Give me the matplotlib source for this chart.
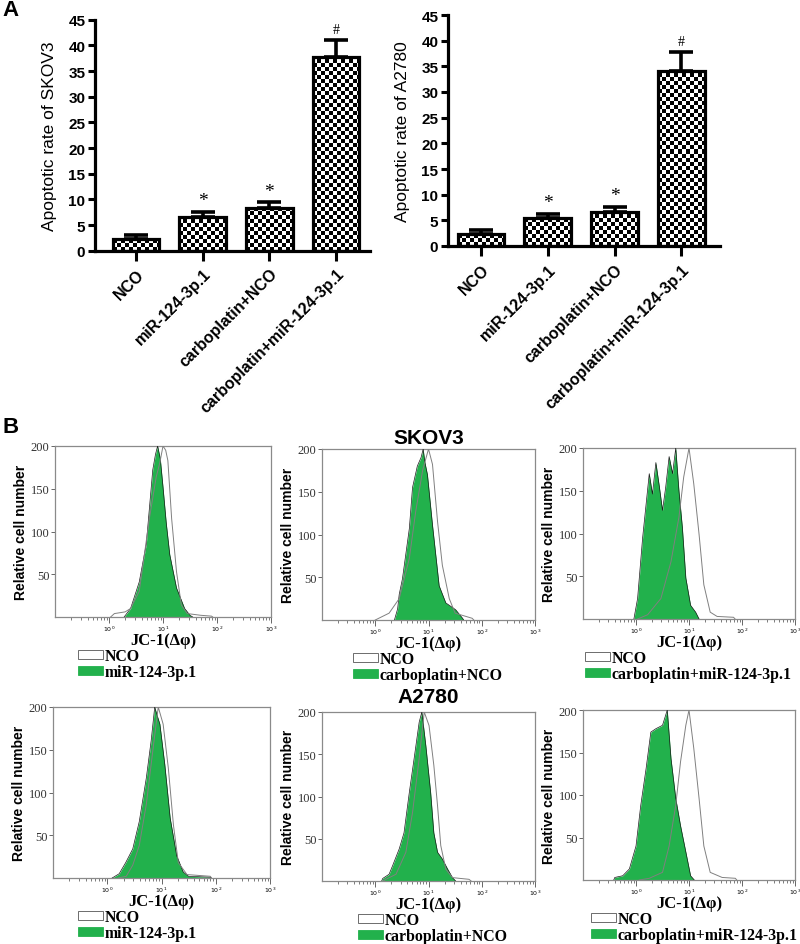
import numpy as np
import matplotlib.pyplot as plt
from matplotlib.patches import Patch
from matplotlib.ticker import FixedLocator, LogLocator, NullFormatter

# ---- data ----
groups = ['NCO', 'miR-124-3p.1', 'carboplatin+NCO', 'carboplatin+miR-124-3p.1']
skov3_rate = [2.3, 6.6, 8.3, 37.7]
skov3_err = [0.7, 1.0, 1.1, 3.4]
a2780_rate = [2.4, 5.4, 6.6, 34.1]
a2780_err = [0.8, 0.9, 1.0, 3.6]
marks = ['', '*', '*', '#']

# flow histograms: x in log10 units, y = relative cell number
# SKOV3
s1_g_lx = [0.28, 0.4, 0.56, 0.69, 0.81, 0.86, 0.9, 0.95, 1.0, 1.06, 1.125, 1.25, 1.4, 1.5, 1.55]
s1_g_y = [0, 10, 41, 85, 172, 190, 200, 185, 152, 110, 73, 34, 10, 2, 0]
s1_n_lx = [0.03, 0.1, 0.3, 0.4, 0.56, 0.75, 0.875, 0.94, 1.0, 1.05, 1.09, 1.16, 1.25, 1.34, 1.45, 1.7, 1.9, 1.92]
s1_n_y = [0, 4, 6, 10, 30, 116, 164, 180, 200, 195, 183, 115, 53, 14, 4, 2, 1, 0]

s2_g_lx = [0.36, 0.42, 0.45, 0.51, 0.64, 0.7, 0.79, 0.86, 0.9, 0.93, 0.98, 1.075, 1.2, 1.325, 1.51, 1.64, 1.66]
s2_g_y = [0, 13, 30, 48, 107, 155, 180, 190, 200, 185, 170, 111, 40, 20, 12, 2, 0]
s2_n_lx = [0.0, 0.26, 0.45, 0.64, 0.76, 0.89, 1.0, 1.075, 1.17, 1.26, 1.39, 1.5, 1.82, 1.85]
s2_n_y = [0, 8, 25, 72, 127, 175, 200, 182, 115, 64, 25, 8, 2, 0]

s3_g_lx = [-0.04, 0.03, 0.125, 0.19, 0.25, 0.31, 0.375, 0.44, 0.5, 0.56, 0.625, 0.69, 0.75, 0.81, 0.875, 0.94, 1.03, 1.125, 1.19]
s3_g_y = [0, 24, 95, 134, 170, 146, 183, 155, 127, 154, 190, 170, 200, 150, 107, 48, 16, 8, 0]
s3_n_lx = [0.03, 0.22, 0.47, 0.66, 0.81, 0.9, 1.0, 1.09, 1.19, 1.28, 1.4, 1.53, 1.84, 1.87]
s3_n_y = [0, 5, 24, 67, 119, 166, 200, 158, 99, 40, 8, 3, 2, 0]

# A2780
a1_g_lx = [0.09, 0.22, 0.34, 0.47, 0.59, 0.72, 0.81, 0.875, 0.92, 0.97, 1.06, 1.16, 1.28, 1.4, 1.5, 1.9, 1.92]
a1_g_y = [0, 5, 18, 34, 66, 117, 161, 200, 190, 180, 133, 70, 26, 7, 2, 1, 0]
a1_n_lx = [0.2, 0.35, 0.47, 0.59, 0.72, 0.84, 0.94, 1.03, 1.125, 1.22, 1.31, 1.47, 1.9, 1.92]
a1_n_y = [0, 2, 15, 38, 86, 149, 200, 180, 129, 62, 18, 4, 2, 0]

a2_g_lx = [0.12, 0.14, 0.26, 0.325, 0.45, 0.54, 0.64, 0.73, 0.825, 0.875, 0.95, 1.04, 1.1, 1.17, 1.26, 1.36, 1.45, 1.51]
a2_g_y = [0, 3, 8, 18, 38, 57, 105, 145, 188, 200, 160, 105, 57, 34, 26, 14, 4, 0]
a2_n_lx = [0.15, 0.2, 0.39, 0.575, 0.7, 0.825, 0.92, 1.01, 1.1, 1.17, 1.23, 1.325, 1.45, 1.76, 1.8]
a2_n_y = [0, 2, 8, 34, 81, 145, 200, 184, 137, 89, 42, 14, 4, 2, 0]

a3_g_lx = [-0.42, -0.4, -0.25, -0.125, 0.0, 0.09, 0.19, 0.28, 0.375, 0.5, 0.59, 0.66, 0.75, 0.84, 0.94, 1.03, 1.1]
a3_g_y = [0, 3, 5, 13, 40, 88, 131, 174, 178, 182, 200, 143, 96, 64, 33, 5, 0]
a3_n_lx = [0.06, 0.25, 0.5, 0.625, 0.75, 0.84, 0.94, 1.0, 1.09, 1.19, 1.28, 1.4, 1.625, 1.875, 1.9]
a3_n_y = [0, 2, 9, 40, 88, 139, 182, 200, 155, 96, 40, 9, 3, 2, 0]

GREEN = '#22b14c'
SANS = 'Liberation Sans'
SERIF = 'Liberation Serif'

W, H = 800, 945
fig = plt.figure(figsize=(8, 9.45), dpi=100)


def rect(l, t, r, b):
    return [l / W, 1 - b / H, (r - l) / W, (b - t) / H]


def bar_panel(box, xlim, rates, errs, ylabel):
    ax = fig.add_axes(rect(*box))
    x = np.arange(len(groups))
    ax.set_xlim(*xlim)
    ax.set_ylim(0, 45)
    bars = ax.bar(x, rates, width=0.7, facecolor='none', edgecolor='black',
                  linewidth=2.3, zorder=4)
    ax.errorbar(x, rates, yerr=[np.zeros(len(x)), errs], fmt='none', ecolor='black',
                elinewidth=2.6, capsize=8.3, capthick=2.6, zorder=3)
    # checkerboard fill, clipped to each bar
    px_x = (box[2] - box[0]) / (xlim[1] - xlim[0])
    px_y = (box[3] - box[1]) / 45
    cell = 4.0
    for b in bars:
        x0, w, h = b.get_x(), b.get_width(), b.get_height()
        nx = int(np.ceil(w * px_x / cell))
        ny = int(np.ceil(h * px_y / cell))
        ii, jj = np.indices((ny, nx))
        board = (ii + jj) % 2
        im = ax.imshow(board, cmap='gray', origin='lower', interpolation='nearest',
                       extent=(x0, x0 + nx * cell / px_x, 0, ny * cell / px_y),
                       aspect='auto', zorder=2)
        im.set_clip_path(b)
    for xi, top, m in zip(x, np.add(rates, errs), marks):
        if m == '*':
            ax.text(xi, top + 0.5, m, ha='center', va='bottom', fontsize=14,
                    family=SERIF)
        elif m == '#':
            ax.text(xi, top + 0.8, m, ha='center', va='bottom', fontsize=10,
                    family=SERIF)
    ax.set_xlim(*xlim)
    ax.set_ylim(0, 45)
    ax.set_yticks(range(0, 46, 5))
    ax.set_xticks(x)
    ax.set_xticklabels(groups, rotation=45, ha='right', rotation_mode='anchor',
                       fontsize=11.5, fontweight='bold', family=SANS)
    for t in ax.get_yticklabels():
        t.set_fontsize(11)
        t.set_fontweight('bold')
        t.set_family(SANS)
    ax.tick_params(axis='y', length=5, width=2.2, pad=2)
    ax.tick_params(axis='x', length=7, width=2.2, pad=4)
    for s in ['top', 'right']:
        ax.spines[s].set_visible(False)
    for s in ['left', 'bottom']:
        ax.spines[s].set_linewidth(2.3)
    ax.set_ylabel(ylabel, fontsize=12.5, family=SANS, labelpad=8)
    return ax


def hist_panel(box, g_lx, g_y, n_lx, n_y, label, leg_left, title=None, tpad=4):
    ax = fig.add_axes(rect(*box))
    gx = 10 ** np.array(g_lx)
    nx = 10 ** np.array(n_lx)
    ax.fill_between(gx, g_y, color=GREEN, lw=0, zorder=2)
    ax.plot(gx, g_y, color='#1a1a1a', lw=0.5, zorder=3)
    ax.plot(nx, n_y, color='#808080', lw=0.7, zorder=4)
    ax.set_xscale('log')
    ax.set_xlim(0.1, 1000)
    ax.set_ylim(0, 200)
    ax.xaxis.set_major_locator(FixedLocator([1, 10, 100, 1000]))
    ax.xaxis.set_minor_locator(LogLocator(base=10, subs=np.arange(2, 10)))
    ax.xaxis.set_minor_formatter(NullFormatter())
    ax.set_yticks([50, 100, 150, 200])
    for s in ax.spines.values():
        s.set_color('#8a8a8a')
        s.set_linewidth(0.9)
    ax.tick_params(axis='x', which='major', length=4, width=0.7, color='#666',
                   labelsize=4.5, pad=1)
    ax.tick_params(axis='x', which='minor', length=2.5, width=0.6, color='#666')
    ax.tick_params(axis='y', length=3, width=0.7, color='#666', labelsize=9,
                   labelcolor='#333', pad=1)
    for t in ax.get_yticklabels():
        t.set_family(SERIF)
    ax.set_ylabel('Relative cell number', fontsize=10, fontweight='bold',
                  family=SANS, labelpad=2)
    ax.set_xlabel('JC-1(\u0394\u03c6)', fontsize=12, fontweight='bold',
                  family=SERIF, labelpad=-1)
    if title:
        ax.set_title(title, fontsize=15, fontweight='bold', family=SANS, pad=tpad)
    handles = [Patch(facecolor='white', edgecolor='#555', lw=0.6),
               Patch(facecolor=GREEN, edgecolor=GREEN, lw=0.6)]
    leg_top = box[3] + 31
    ax.legend(handles, ['NCO', label], loc='upper left',
              bbox_to_anchor=(leg_left / W, 1 - leg_top / H),
              bbox_transform=fig.transFigure, frameon=False,
              prop={'family': SERIF, 'weight': 'bold', 'size': 11.4},
              handlelength=1.6, handleheight=0.45, handletextpad=0.1,
              labelspacing=0.0, borderpad=0, borderaxespad=0)
    return ax


# ---- panel A ----
bar_panel((95, 20.7, 370, 251.7), (-0.615, 3.51), skov3_rate, skov3_err,
          'Apoptotic rate of SKOV3')
bar_panel((448, 16, 720, 247), (-0.495, 3.58), a2780_rate, a2780_err,
          'Apoptotic rate of A2780')

# ---- panel B ----
hist_panel((55, 447, 271, 618), s1_g_lx, s1_g_y, s1_n_lx, s1_n_y, groups[1], 78)
hist_panel((322, 450, 535, 621), s2_g_lx, s2_g_y, s2_n_lx, s2_n_y, groups[2], 353,
           title='SKOV3', tpad=4)
hist_panel((583, 449, 795, 620), s3_g_lx, s3_g_y, s3_n_lx, s3_n_y, groups[3], 585)
hist_panel((53, 708, 270, 879), a1_g_lx, a1_g_y, a1_n_lx, a1_n_y, groups[1], 78)
hist_panel((322, 713, 535, 882), a2_g_lx, a2_g_y, a2_n_lx, a2_n_y, groups[2], 358,
           title='A2780', tpad=7)
hist_panel((583, 711, 795, 881), a3_g_lx, a3_g_y, a3_n_lx, a3_n_y, groups[3], 591)

fig.text(2 / W, 1 - 16 / H, 'A', fontsize=16, fontweight='bold', family=SANS)
fig.text(2 / W, 1 - 433 / H, 'B', fontsize=16, fontweight='bold', family=SANS)

fig.savefig('out.png', dpi=100)
